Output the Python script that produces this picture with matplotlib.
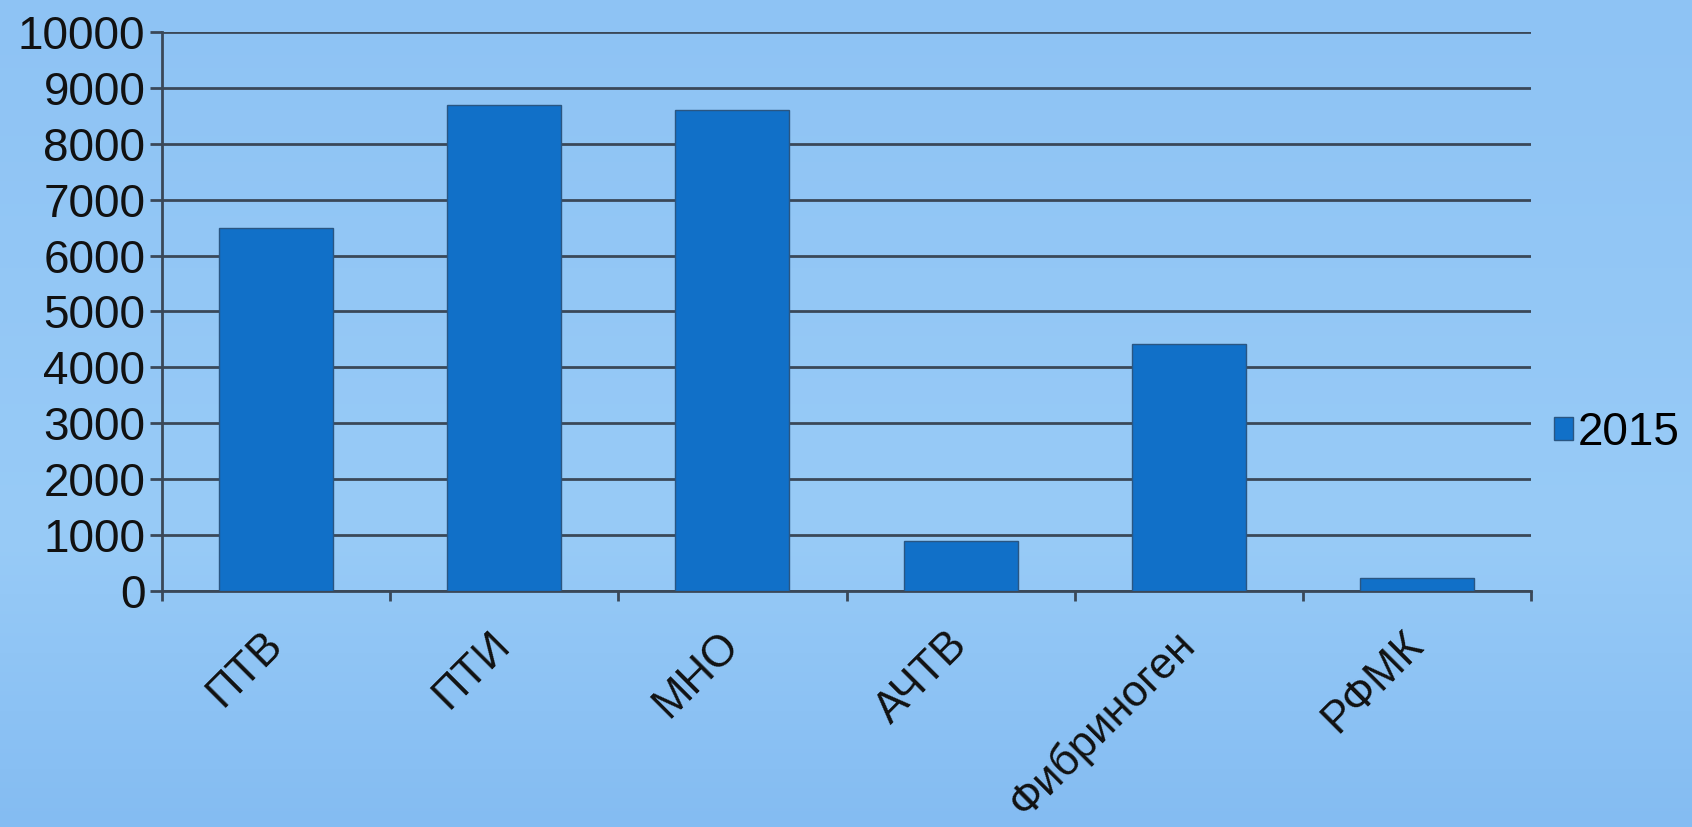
import numpy as np
import matplotlib
matplotlib.use('Agg')
import matplotlib.pyplot as plt
from matplotlib.colors import LinearSegmentedColormap

# Data
categories = ['ПТВ', 'ПТИ', 'МНО', 'АЧТВ', 'Фибриноген', 'РФМК']
values_2015 = [6500, 8700, 8600, 900, 4420, 230]
y_ticks = [0, 1000, 2000, 3000, 4000, 5000, 6000, 7000, 8000, 9000, 10000]

plt.rcParams['font.family'] = ['Liberation Sans', 'DejaVu Sans']

fig = plt.figure(figsize=(16.92, 8.27), dpi=100)

# Gradient background
bg = fig.add_axes([0, 0, 1, 1], zorder=-10)
cmap = LinearSegmentedColormap.from_list(
    'bg', [(0.0, '#8ec3f4'), (0.65, '#98cbf7'), (1.0, '#84bcf2')])
grad = np.linspace(0, 1, 256).reshape(-1, 1)
bg.imshow(grad, aspect='auto', cmap=cmap, extent=[0, 1, 0, 1], origin='upper')
bg.axis('off')

ax = fig.add_axes([0.0957, 0.2854, 0.8092, 0.6759])
ax.set_facecolor('none')

x = np.arange(len(categories))
ax.bar(x, values_2015, width=0.5, color='#1170c8', edgecolor='#2a5682',
       linewidth=1, label='2015', zorder=3)

ax.set_xlim(-0.5, len(categories) - 0.5)
ax.set_ylim(0, 10000)
ax.set_yticks(y_ticks)
ax.set_yticklabels([str(v) for v in y_ticks], fontsize=33, color='#111111')

# Gridlines
ax.yaxis.grid(True, color='#3a4858', linewidth=2, zorder=1)
ax.set_axisbelow(True)

# x ticks at category boundaries, labels at centers
ax.set_xticks(np.arange(-0.5, len(categories)), minor=False)
ax.set_xticklabels([])
ax.set_xticks(x, minor=True)
ax.set_xticklabels(categories, minor=True, rotation=45, ha='right', va='center',
                   rotation_mode='anchor', fontsize=31.5, color='#111111')
ax.tick_params(axis='x', which='minor', length=0, pad=34)
ax.tick_params(axis='x', which='major', length=7, width=2, color='#3a4858')
ax.tick_params(axis='y', length=9, width=2, color='#3a4858', pad=3)

for side in ['top', 'right']:
    ax.spines[side].set_visible(False)
for side in ['left', 'bottom']:
    ax.spines[side].set_color('#3a4858')
    ax.spines[side].set_linewidth(2)

ax.legend(loc='center left', bbox_to_anchor=(1.0, 0.283), frameon=False,
          fontsize=33, handlelength=0.42, handleheight=0.42,
          handletextpad=0.1, borderpad=0, borderaxespad=0.5)

fig.savefig('out.png', dpi=100)
